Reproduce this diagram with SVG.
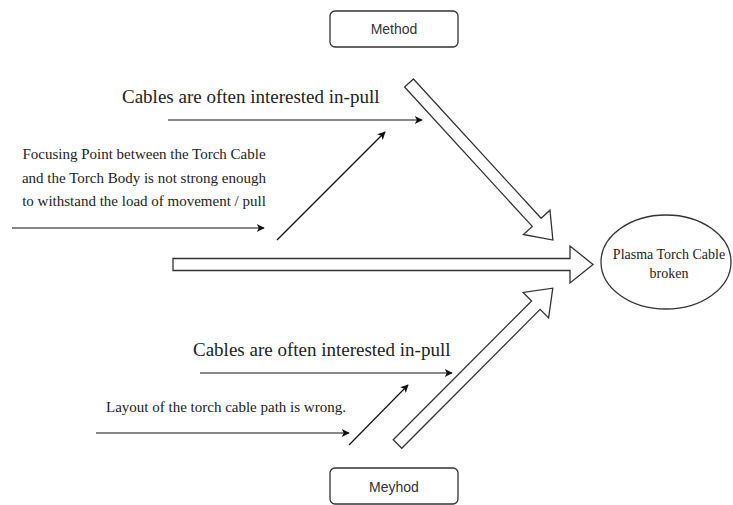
<svg xmlns="http://www.w3.org/2000/svg" width="733" height="505" viewBox="0 0 733 505">
  <style>
    .box { fill: #ffffff; stroke: #333333; stroke-width: 1.3; }
    .lbl { font-family: "Liberation Sans", Arial, sans-serif; font-size: 14px; fill: #333333; text-anchor: middle; }
    .serif { font-family: "Liberation Serif", "Times New Roman", serif; fill: #222222; }
    .big { fill: #ffffff; stroke: #333333; stroke-width: 1.3; stroke-linejoin: miter; }
    .thin { fill: none; stroke: #111111; stroke-width: 1.2; marker-end: url(#head); }
  </style>
  <defs>
    <marker id="head" viewBox="0 0 10 10" refX="9" refY="5" markerWidth="10" markerHeight="8" markerUnits="userSpaceOnUse" orient="auto">
      <path d="M0,0 L10,5 L0,10 L2.5,5 Z" fill="#111111"/>
    </marker>
  </defs>

  <rect width="733" height="505" fill="#ffffff"/>

  <!-- category boxes -->
  <g id="method">
    <rect class="box" x="330" y="11" width="128" height="36" rx="5"/>
    <text class="lbl" x="394" y="34">Method</text>
  </g>
  <g id="meyhod">
    <rect class="box" x="330" y="468" width="128" height="36" rx="5"/>
    <text class="lbl" x="394" y="492">Meyhod</text>
  </g>

  <!-- effect -->
  <g id="effect">
    <ellipse cx="666" cy="262" rx="65" ry="47" fill="#ffffff" stroke="#333333" stroke-width="1.3"/>
    <text class="serif" x="669" y="259" font-size="14" text-anchor="middle">Plasma Torch Cable</text>
    <text class="serif" x="669" y="278" font-size="14" text-anchor="middle">broken</text>
  </g>

  <!-- cause labels -->
  <g id="cause-top">
    <text class="serif" x="122" y="103" font-size="19">Cables are often interested in-pull</text>
  </g>
  <g id="cause-focus">
    <text class="serif" x="144" y="159" font-size="15" text-anchor="middle">Focusing Point between the Torch Cable</text>
    <text class="serif" x="144" y="183" font-size="15" text-anchor="middle">and the Torch Body is not strong enough</text>
    <text class="serif" x="144" y="206" font-size="15" text-anchor="middle">to withstand the load of movement / pull</text>
  </g>
  <g id="cause-bottom">
    <text class="serif" x="193" y="356" font-size="19">Cables are often interested in-pull</text>
  </g>
  <g id="cause-layout">
    <text class="serif" x="106" y="412" font-size="15">Layout of the torch cable path is wrong.</text>
  </g>

  <!-- connectors -->
  <g id="connectors">
    <!-- main spine -->
    <polygon class="big" points="173,258.5 570,258.5 570,246 593,264.5 570,283 570,270.5 173,270.5"/>
    <!-- upper bone -->
    <g transform="translate(409,83) rotate(47.5)">
      <polygon class="big" points="0,-6 189,-6 189,-18 213,0 189,18 189,6 0,6"/>
    </g>
    <!-- lower bone -->
    <g transform="translate(397.5,444) rotate(-45.1)">
      <polygon class="big" points="0,-6 196,-6 196,-18 220,0 196,18 196,6 0,6"/>
    </g>
    <!-- cause arrows -->
    <line class="thin" x1="168" y1="120" x2="422" y2="120"/>
    <line class="thin" x1="12" y1="228" x2="264" y2="228"/>
    <line class="thin" x1="277" y1="240" x2="385" y2="132"/>
    <line class="thin" x1="200" y1="373" x2="452" y2="373"/>
    <line class="thin" x1="96" y1="433" x2="349" y2="433"/>
    <line class="thin" x1="349" y1="445" x2="408" y2="385"/>
  </g>
</svg>
